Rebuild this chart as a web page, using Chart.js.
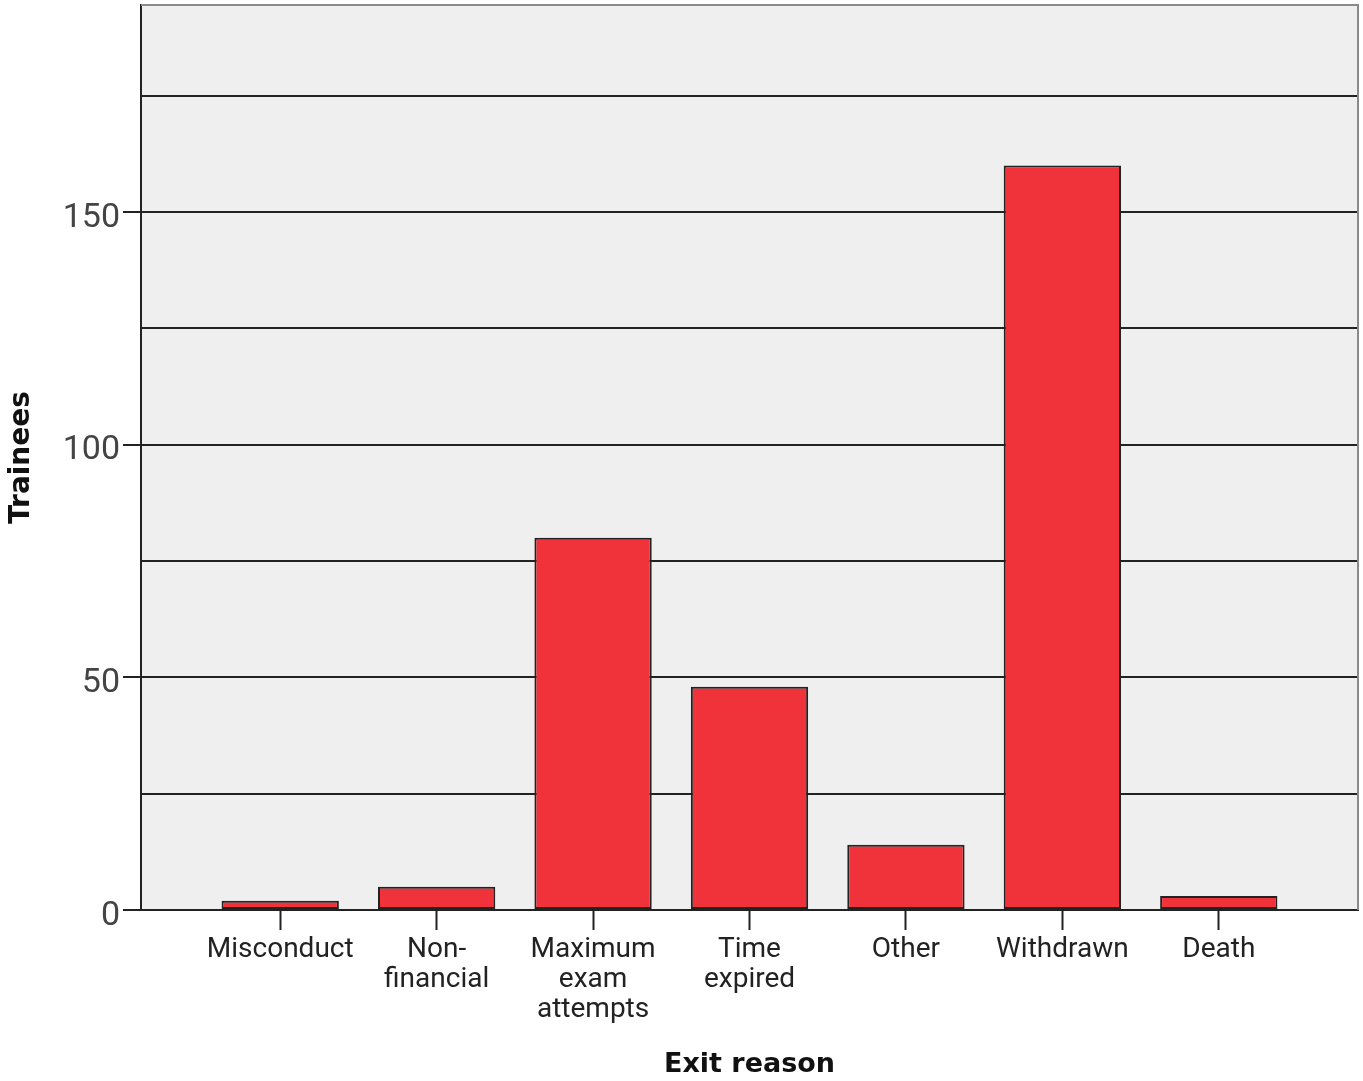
<!DOCTYPE html>
<html>
<head>
<meta charset="utf-8">
<script src="https://cdn.jsdelivr.net/npm/chart.js"></script>
<style>
  html, body { margin: 0; padding: 0; background: #fff; }
  #wrap { width: 1363px; height: 1081px; }
</style>
</head>
<body>
<div id="wrap"><canvas id="chart1"></canvas></div>
<script>
var categories = [
  'Misconduct',
  ['Non-', 'financial'],
  ['Maximum', 'exam', 'attempts'],
  ['Time', 'expired'],
  'Other',
  'Withdrawn',
  'Death'
];
var trainees = [2, 5, 80, 48, 14, 160, 3];
var yTicks = [0, 25, 50, 75, 100, 125, 150, 175];
var yLabelled = [0, 50, 100, 150];

// plot background + grey top/right frame
var plotFrame = {
  id: 'plotFrame',
  beforeDraw(chart) {
    let a = chart.chartArea, ctx = chart.ctx;
    ctx.save();
    ctx.fillStyle = '#efefef';
    ctx.fillRect(a.left, a.top, a.right - a.left, a.bottom - a.top);
    ctx.restore();
  },
  afterDraw(chart) {
    let a = chart.chartArea, ctx = chart.ctx;
    ctx.save();
    ctx.strokeStyle = '#8a8a8a';
    ctx.lineWidth = 2;
    ctx.beginPath();
    ctx.moveTo(a.left, a.top);
    ctx.lineTo(a.right, a.top);
    ctx.lineTo(a.right, a.bottom);
    ctx.stroke();
    ctx.restore();
  }
};

function noPad(s) {
  s.paddingTop = 0;
  s.paddingBottom = 0;
  s.paddingLeft = 0;
  s.paddingRight = 0;
}

let chart1 = document.getElementById('chart1').getContext('2d');
let barChart = new Chart(chart1, {
  type: 'bar',
  data: {
    datasets: [
      {
        label: 'Trainees',
        data: trainees.map((v, i) => ({ x: i, y: v })),
        backgroundColor: '#f0323a',
        borderColor: '#222',
        borderWidth: 2,
        borderSkipped: false,
        categoryPercentage: 1,
        barPercentage: 0.75
      }
    ]
  },
  options: {
    responsive: true,
    maintainAspectRatio: false,
    animation: false,
    layout: { padding: { top: 5, right: 5, left: 0, bottom: 0 } },
    plugins: { legend: { display: false }, tooltip: { enabled: false } },
    scales: {
      x: {
        type: 'linear',
        offset: false,
        min: -0.89,
        max: 6.89,
        afterBuildTicks: s => { s.ticks = categories.map((c, i) => ({ value: i })); },
        afterFit: s => { s.height = 171; noPad(s); },
        grid: { offset: false, drawOnChartArea: false, drawTicks: true, tickLength: 20, tickColor: '#222', tickWidth: 2 },
        border: { display: true, color: '#222', width: 2 },
        ticks: {
          autoSkip: false,
          maxRotation: 0,
          padding: 5,
          color: '#222',
          font: { family: 'Roboto', size: 28, lineHeight: 1.07 },
          callback: v => categories[v]
        },
        title: {
          display: true,
          text: 'Exit reason',
          color: '#111',
          font: { family: 'DejaVu Sans', size: 27, weight: 'bold' },
          padding: { top: 0, bottom: 0 }
        }
      },
      y: {
        min: 0,
        max: 194.5,
        afterBuildTicks: s => { s.ticks = yTicks.map(v => ({ value: v })); },
        afterFit: s => { s.width = 141; noPad(s); },
        grid: {
          color: '#222',
          lineWidth: 2,
          tickLength: 18,
          tickWidth: 2,
          tickColor: c => (yLabelled.indexOf(c.tick.value) > -1 ? '#222' : 'rgba(0,0,0,0)')
        },
        border: { display: true, color: '#222', width: 2 },
        ticks: {
          padding: 3,
          labelOffset: 6,
          color: '#444',
          font: { family: 'Roboto', size: 34 },
          callback: v => (yLabelled.indexOf(v) > -1 ? v : '')
        },
        title: {
          display: true,
          text: 'Trainees',
          color: '#111',
          font: { family: 'DejaVu Sans', size: 28, weight: 'bold' },
          padding: { top: 5, bottom: 0 }
        }
      }
    }
  },
  plugins: [plotFrame]
});
</script>
</body>
</html>
